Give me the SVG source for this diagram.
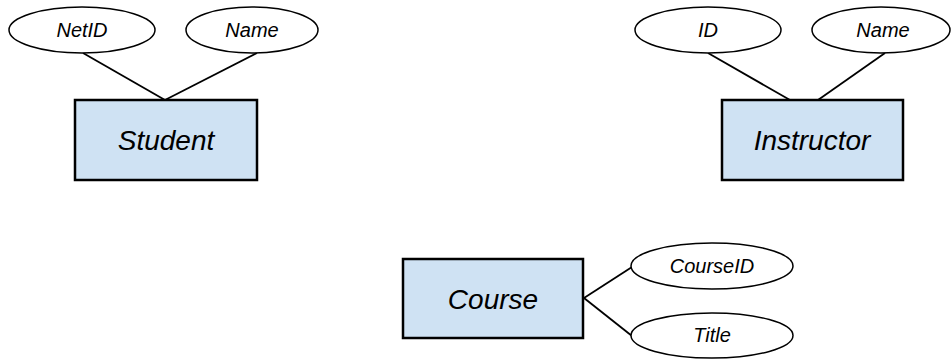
<svg xmlns="http://www.w3.org/2000/svg" width="951" height="360" viewBox="0 0 951 360">
<style>
.ent{fill:#cfe2f3;stroke:#000;stroke-width:2.5}
.att{fill:#fff;stroke:#000;stroke-width:1.5}
.lbl{font-family:"Liberation Sans",Arial,sans-serif;font-style:italic;fill:#000;text-anchor:middle}
.a{font-size:20px}
.e{font-size:28px}
.conn line{stroke:#000;stroke-width:1.8}
</style>
<rect width="951" height="360" fill="#fff"/>
<g id="connectors" class="conn">
<line x1="83" y1="53" x2="165" y2="100"/>
<line x1="257" y1="53" x2="165" y2="100"/>
<line x1="708" y1="53" x2="790" y2="100"/>
<line x1="885" y1="53" x2="818" y2="100"/>
<line x1="584" y1="298" x2="632" y2="267"/>
<line x1="584" y1="298" x2="632" y2="336"/>
</g>
<g id="student-netid"><ellipse class="att" cx="82" cy="30" rx="73" ry="23"/><text class="lbl a" x="82" y="37">NetID</text></g>
<g id="student-name"><ellipse class="att" cx="252" cy="30" rx="66" ry="23"/><text class="lbl a" x="252" y="37">Name</text></g>
<g id="student"><rect class="ent" x="75" y="100" width="182" height="80"/><text class="lbl e" x="166" y="150">Student</text></g>
<g id="instructor-id"><ellipse class="att" cx="708" cy="30" rx="73" ry="23"/><text class="lbl a" x="708" y="37">ID</text></g>
<g id="instructor-name"><ellipse class="att" cx="881" cy="30" rx="69" ry="23"/><text class="lbl a" x="883" y="37">Name</text></g>
<g id="instructor"><rect class="ent" x="722" y="100" width="181" height="80"/><text class="lbl e" x="812" y="150">Instructor</text></g>
<g id="course"><rect class="ent" x="403" y="259" width="180" height="79"/><text class="lbl e" x="493" y="309">Course</text></g>
<g id="course-courseid"><ellipse class="att" cx="712" cy="266" rx="81" ry="23"/><text class="lbl a" x="712" y="273">CourseID</text></g>
<g id="course-title"><ellipse class="att" cx="712" cy="335.5" rx="81" ry="22.5"/><text class="lbl a" x="712" y="342">Title</text></g>
</svg>
